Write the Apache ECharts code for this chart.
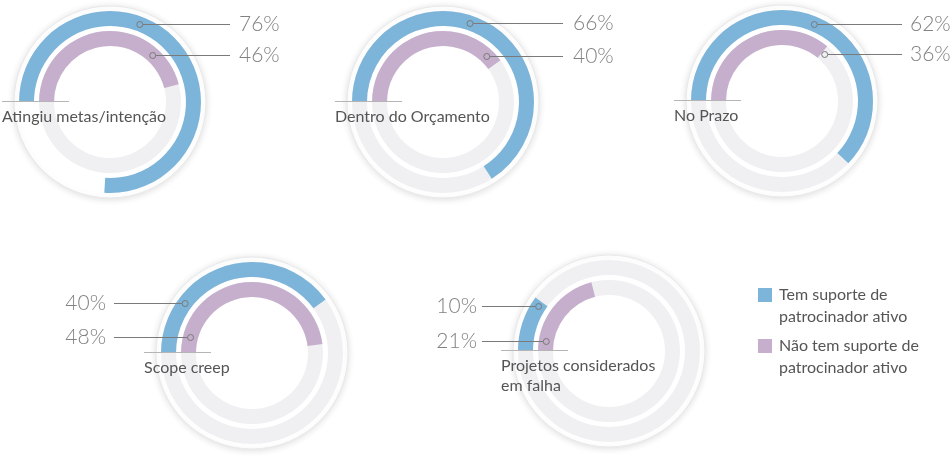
<!DOCTYPE html>
<html><head><meta charset="utf-8">
<script src="https://cdn.jsdelivr.net/npm/echarts@6/dist/echarts.min.js"></script>
<style>html,body{margin:0;padding:0;background:#fff}#c{width:950px;height:457px}</style>
</head><body><div id="c"></div>
<script>
// ---- data ----
const categories = ['Atingiu metas/intenção', 'Dentro do Orçamento', 'No Prazo', 'Scope creep', 'Projetos considerados\nem falha'];
const seriesNames = ['Tem suporte de\npatrocinador ativo', 'Não tem suporte de\npatrocinador ativo'];
const withSponsor = [76, 66, 62, 40, 10];      // % (blue, outer ring)
const withoutSponsor = [46, 40, 36, 48, 21];   // % (purple, inner ring)

// ---- layout / style ----
const colors = ['#7db4d9', '#c6afcc'];
const trackColor = '#f0f0f2';
const panels = [
  {cx: 110, cy: 101, side: 'right', outerTrack: false, dy: [-78, -47], textOff: 129, lineOff: 120},
  {cx: 443, cy: 101, side: 'right', outerTrack: true,  dy: [-79, -46], textOff: 130, lineOff: 120},
  {cx: 782, cy: 100, side: 'right', outerTrack: true,  dy: [-77, -47], textOff: 128, lineOff: 120},
  {cx: 252, cy: 352, side: 'left',  outerTrack: true,  dy: [-50, -16], textOff: -146, lineOff: -138},
  {cx: 609, cy: 350, side: 'left',  outerTrack: true,  dy: [-45, -10], textOff: -132, lineOff: -127}
];
const ringOuter = [91, 71];
const ringWidth = 15;
const diskR = 96;

const chart = echarts.init(document.getElementById('c'), null, {renderer: 'canvas'});
const series = [];
const graphics = [];
const valueSets = [withSponsor, withoutSponsor];

panels.forEach((p, i) => {
  graphics.push({type: 'circle', z: 0, shape: {cx: p.cx, cy: p.cy + 1, r: diskR},
    style: {fill: '#ffffff', stroke: '#e9e9e9', lineWidth: 1, shadowBlur: 7, shadowColor: 'rgba(0,0,0,0.13)', shadowOffsetY: 1}});
  [0, 1].forEach(k => {
    const track = (k === 0 && !p.outerTrack) ? 'rgba(0,0,0,0)' : trackColor;
    series.push({
      type: 'gauge', center: [p.cx, p.cy + 1], radius: ringOuter[k],
      startAngle: 180, endAngle: -180, min: 0, max: 100, clockwise: true,
      progress: {show: true, width: ringWidth, roundCap: false, itemStyle: {color: colors[k]}},
      axisLine: {show: true, roundCap: false, lineStyle: {width: ringWidth, color: [[1, track]]}},
      pointer: {show: false}, anchor: {show: false}, axisTick: {show: false}, splitLine: {show: false},
      axisLabel: {show: false}, title: {show: false}, detail: {show: false},
      silent: true, animation: false, z: 2,
      data: [{value: valueSets[k][i], name: seriesNames[k]}]
    });
    // leader line + marker + value label
    const rm = ringOuter[k] - ringWidth / 2;
    const dy = p.dy[k];
    const dx = Math.sqrt(Math.max(rm * rm - dy * dy, 0));
    const mx = p.side === 'right' ? p.cx + dx : p.cx - dx;
    const my = p.cy + 1 + dy;
    graphics.push({type: 'line', z: 10, shape: {x1: mx + (p.side === 'right' ? 3 : -3), y1: my + 0.5, x2: p.cx + p.lineOff, y2: my + 0.5},
      style: {stroke: '#7a7a7a', lineWidth: 1}});
    graphics.push({type: 'circle', z: 10, shape: {cx: mx, cy: my + 0.5, r: 3},
      style: {fill: 'rgba(0,0,0,0)', stroke: '#7a7a7a', lineWidth: 1}});
    graphics.push({type: 'text', z: 10, x: p.cx + p.textOff, y: my,
      style: {text: valueSets[k][i] + '%', font: '300 21px Lato, "Open Sans", sans-serif', fill: '#828282',
        align: p.side === 'right' ? 'left' : 'right', verticalAlign: 'middle',
        textAlign: p.side === 'right' ? 'left' : 'right', textVerticalAlign: 'middle'}});
  });
  // category baseline + label
  graphics.push({type: 'line', z: 10, shape: {x1: p.cx - 108, y1: p.cy + 0.5, x2: p.cx - 41, y2: p.cy + 0.5},
    style: {stroke: '#b5b5b5', lineWidth: 1}});
  graphics.push({type: 'text', z: 10, x: p.cx - 108, y: p.cy + 6,
    style: {text: categories[i], font: '16px Lato, "Open Sans", sans-serif', fill: '#555555', lineHeight: 20,
      align: 'left', verticalAlign: 'top', textAlign: 'left', textVerticalAlign: 'top'}});
});

// legend
const legendTop = [288, 339];
seriesNames.forEach((n, k) => {
  graphics.push({type: 'rect', z: 10, shape: {x: 758, y: legendTop[k], width: 14, height: 14}, style: {fill: colors[k]}});
  graphics.push({type: 'text', z: 10, x: 779, y: legendTop[k] - 4,
    style: {text: n, font: '16px Lato, "Open Sans", sans-serif', fill: '#555555', lineHeight: 22,
      align: 'left', verticalAlign: 'top', textAlign: 'left', textVerticalAlign: 'top'}});
});

chart.setOption({animation: false, backgroundColor: '#ffffff', series: series, graphic: {elements: graphics}});
</script>
</body></html>
